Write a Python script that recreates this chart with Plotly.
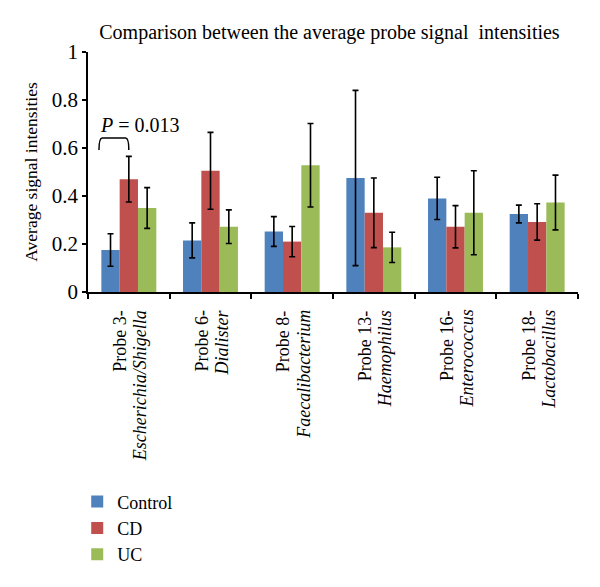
import plotly.graph_objects as go

probe_names = ["Probe 3-", "Probe 6-", "Probe 8-", "Probe 13-", "Probe 16-", "Probe 18-"]
genus_names = ["Escherichia/Shigella", "Dialister", "Faecalibacterium",
               "Haemophilus", "Enterococcus", "Lactobacillus"]
categories = [p + g for p, g in zip(probe_names, genus_names)]

control = [0.175, 0.215, 0.252, 0.475, 0.39, 0.325]
control_err = [0.068, 0.073, 0.062, 0.365, 0.088, 0.037]
cd = [0.47, 0.505, 0.21, 0.33, 0.272, 0.292]
cd_err = [0.095, 0.16, 0.063, 0.145, 0.088, 0.076]
uc = [0.35, 0.272, 0.528, 0.186, 0.33, 0.373]
uc_err = [0.085, 0.07, 0.174, 0.063, 0.175, 0.114]

series_names = ["Control", "CD", "UC"]
series_colors = ["#4F81BD", "#C0504D", "#9BBB59"]
series_values = [control, cd, uc]
series_errors = [control_err, cd_err, uc_err]

p_value_text = "<i>P</i> = 0.013"

FONT = "Liberation Serif"

fig = go.Figure()
for name, vals, errs, color in zip(series_names, series_values, series_errors, series_colors):
    fig.add_trace(go.Bar(
        name=name, x=categories, y=vals,
        marker=dict(color=color, line=dict(width=0)),
        error_y=dict(type="data", array=errs, visible=True,
                     color="black", thickness=1.6, width=3),
    ))

bargap = 0.327
bw = (1 - bargap) / 3
control_center = -bw
# significance bracket between Control and CD of the first probe
x0 = control_center - 0.63 * bw
x1 = 0.0
ytop, ybot = 0.642, 0.592
r = 0.025
path = (f"M {x0},{ybot} Q {x0},{ytop} {x0 + r * 1.6},{ytop} "
        f"L {x1 - r * 1.6},{ytop} Q {x1},{ytop} {x1},{ybot}")
fig.add_shape(type="path", path=path, xref="x", yref="y",
              line=dict(color="black", width=1.5))
fig.add_annotation(x=x0 - 0.01, y=0.696, xref="x", yref="y",
                   text=p_value_text, showarrow=False,
                   xanchor="left", yanchor="middle",
                   font=dict(family=FONT, size=20, color="black"))

# two-line rotated category labels
for cat, p, g in zip(categories, probe_names, genus_names):
    fig.add_annotation(x=cat, y=0, xref="x", yref="paper", text=p,
                       textangle=-90, showarrow=False, xanchor="center",
                       yanchor="top", xshift=-9, yshift=-16,
                       font=dict(family=FONT, size=18, color="black"))
    fig.add_annotation(x=cat, y=0, xref="x", yref="paper", text=f"<i>{g}</i>",
                       textangle=-90, showarrow=False, xanchor="center",
                       yanchor="top", xshift=11, yshift=-16,
                       font=dict(family=FONT, size=18, color="black"))

fig.update_layout(
    width=592, height=579,
    margin=dict(l=80, r=22, t=44, b=295, autoexpand=False),
    paper_bgcolor="white", plot_bgcolor="white",
    barmode="group", bargap=bargap, bargroupgap=0,
    font=dict(family=FONT, size=16, color="black"),
    title=dict(text="Comparison between the average probe signal  intensities",
               x=0.543, xanchor="center", y=0.9585, yanchor="middle",
               font=dict(family=FONT, size=20, color="black")),
    legend=dict(x=-0.022, xanchor="left", y=-0.797, yanchor="top",
                font=dict(family=FONT, size=18, color="black"),
                tracegroupgap=0, itemwidth=30, bgcolor="rgba(0,0,0,0)"),
    showlegend=True,
)
fig.update_xaxes(
    type="category", range=[-0.5, len(categories) - 0.5],
    showticklabels=False, tickson="boundaries",
    ticks="outside", ticklen=5, tickwidth=1.5, tickcolor="black",
    showline=True, linecolor="black", linewidth=1.6,
    showgrid=False, zeroline=False,
)
fig.update_yaxes(
    range=[0, 1], dtick=0.2, tickformat="~g",
    showline=True, linecolor="black", linewidth=1.6,
    ticks="outside", ticklen=4, tickwidth=1.5, tickcolor="black",
    showgrid=False, zeroline=False,
    tickfont=dict(family=FONT, size=21, color="black"),
    title=dict(text="Average signal intensities", standoff=10,
               font=dict(family=FONT, size=17.5, color="black")),
)

fig.write_html("out.html")
